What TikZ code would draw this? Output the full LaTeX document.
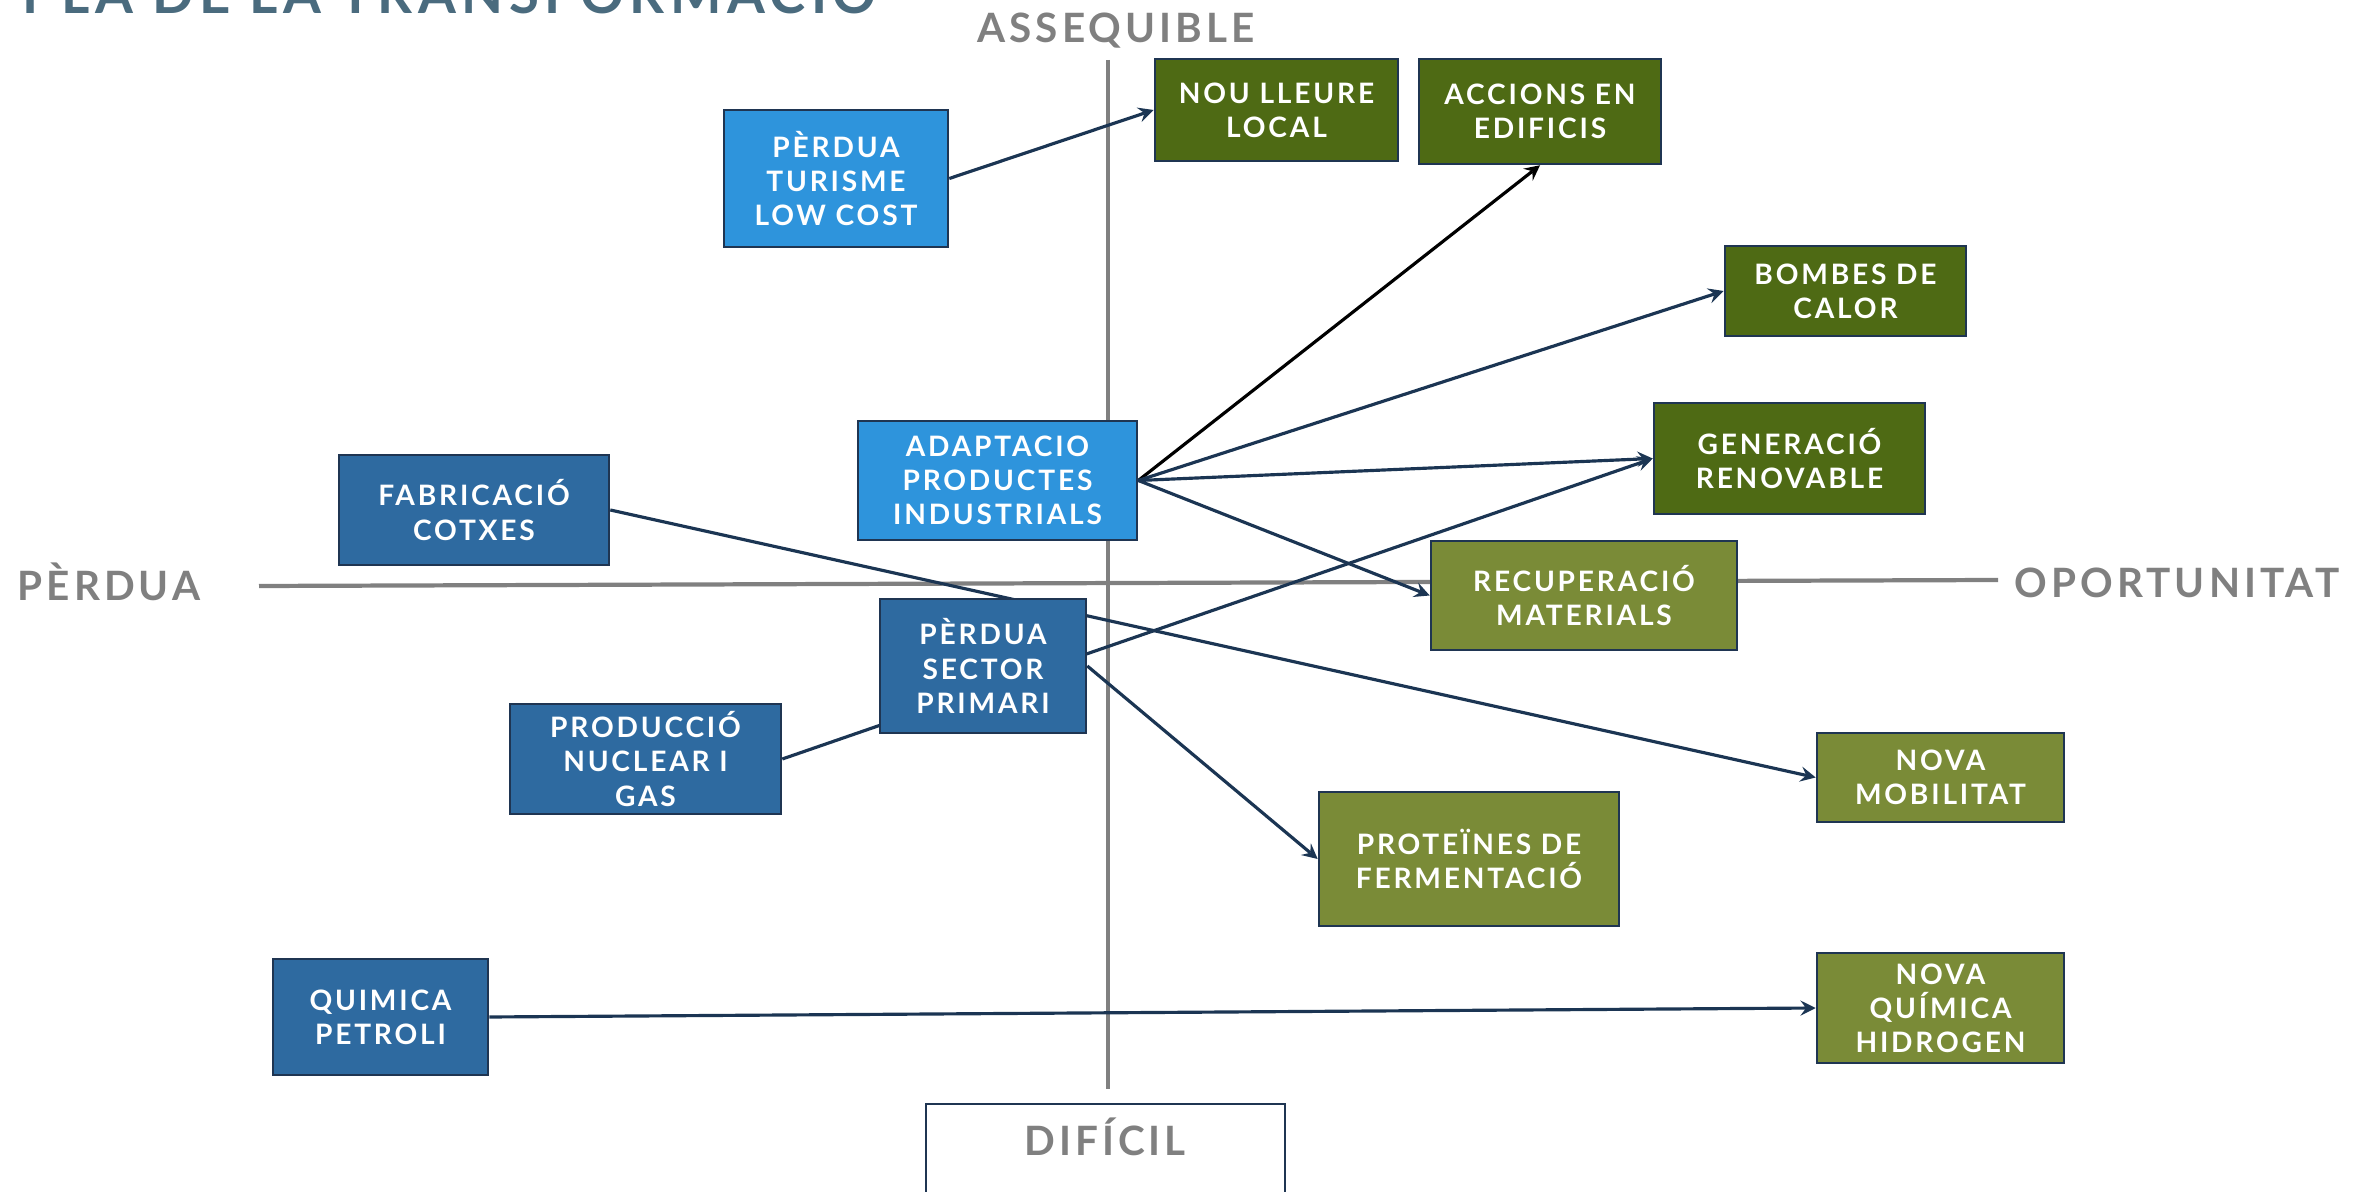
\documentclass[tikz,border=0pt]{standalone}
\usepackage{fontspec,tikz}
\setmainfont{Lato}
\newfontfamily\boxfont{Lato}[LetterSpace=10]
\usetikzlibrary{arrows,backgrounds}
\definecolor{lightloss}{RGB}{46,148,220}
\definecolor{darkloss}{RGB}{46,106,160}
\definecolor{darkgain}{RGB}{78,106,20}
\definecolor{lightgain}{RGB}{122,139,55}
\definecolor{boxedge}{RGB}{31,53,82}
\definecolor{linkblue}{RGB}{27,53,83}
\definecolor{axisgray}{RGB}{128,128,128}
\definecolor{titleblue}{RGB}{74,107,126}
\tikzstyle{box}=[rectangle,draw=boxedge,line width=0.7pt,text=white,align=center,inner sep=0,font=\boxfont\bfseries\fontsize{8}{9.7}\selectfont]
\tikzstyle{lightloss}=[box,fill=lightloss]
\tikzstyle{darkloss}=[box,fill=darkloss]
\tikzstyle{darkgain}=[box,fill=darkgain]
\tikzstyle{lightgain}=[box,fill=lightgain]
\tikzstyle{axislabel}=[text=axisgray,inner sep=0,font=\boxfont\bfseries\fontsize{11.5}{14}\selectfont]
\tikzstyle{axisline}=[axisgray,line width=0.9pt]
\tikzstyle{link}=[linkblue,line width=0.9pt,->,>=stealth]

\begin{document}
\begin{tikzpicture}[x=0.01cm,y=-0.01cm]
\useasboundingbox (0,0) rectangle (2364,1192);
\clip (0,0) rectangle (2364,1192);

\node[anchor=base west,inner sep=0,text=titleblue,font=\boxfont\bfseries\fontsize{15.5}{18}\selectfont] (titol) at (22,14) {PLA DE LA TRANSFORMACIÓ};

\node[axislabel] (assequible) at (1116,31) {ASSEQUIBLE};
\node[axislabel] (perdua) at (109,582) {PÈRDUA};
\node[axislabel] (oportunitat) at (2177,583) {OPORTUNITAT};
\draw[boxedge,line width=0.7pt,fill=white] (926,1104) rectangle (1285,1240);
\node[axislabel] (dificil) at (1105,1137) {DIFÍCIL};

\coordinate (left) at (259,586);
\coordinate (right) at (1998,580);
\coordinate (top) at (1108,60);
\coordinate (bottom) at (1108,1089);

\node[lightloss,minimum width=2.24cm,minimum height=1.37cm] (turisme) at (836,178.5) {PÈRDUA\\TURISME\\LOW COST};
\node[darkgain,minimum width=2.43cm,minimum height=1.02cm] (lleure) at (1276.5,110) {NOU LLEURE\\LOCAL};
\node[darkgain,minimum width=2.42cm,minimum height=1.05cm] (edificis) at (1540,111.5) {ACCIONS EN\\EDIFICIS};
\node[darkgain,minimum width=2.41cm,minimum height=0.90cm] (bombes) at (1845.5,291) {BOMBES DE\\CALOR};
\node[darkgain,minimum width=2.71cm,minimum height=1.11cm] (renovable) at (1789.5,458.5) {GENERACIÓ\\RENOVABLE};
\node[lightloss,minimum width=2.79cm,minimum height=1.19cm] (industrials) at (997.5,480.5) {ADAPTACIO\\PRODUCTES\\INDUSTRIALS};
\node[darkloss,minimum width=2.70cm,minimum height=1.10cm] (cotxes) at (474,510) {FABRICACIÓ\\COTXES};
\node[lightgain,minimum width=3.06cm,minimum height=1.09cm] (materials) at (1584,595.5) {RECUPERACIÓ\\MATERIALS};
\node[darkloss,minimum width=2.06cm,minimum height=1.34cm] (primari) at (983,666) {PÈRDUA\\SECTOR\\PRIMARI};
\node[darkloss,minimum width=2.71cm,minimum height=1.10cm] (nuclear) at (645.5,759) {PRODUCCIÓ\\NUCLEAR I\\GAS};
\node[lightgain,minimum width=2.47cm,minimum height=0.89cm] (mobilitat) at (1940.5,777.5) {NOVA\\MOBILITAT};
\node[lightgain,minimum width=3.00cm,minimum height=1.34cm] (proteines) at (1469,859) {PROTEÏNES DE\\FERMENTACIÓ};
\node[darkloss,minimum width=2.15cm,minimum height=1.16cm] (petroli) at (380.5,1017) {QUIMICA\\PETROLI};
\node[lightgain,minimum width=2.47cm,minimum height=1.10cm] (hidrogen) at (1940.5,1008) {NOVA\\QUÍMICA\\HIDROGEN};

\begin{pgfonlayer}{background}
\draw[axisline,line width=1.2pt] (left) -- (right);
\draw[axisline] (top) -- (bottom);
\draw[link] (turisme.east) -- (lleure.west);
\draw[link,black] (industrials.east) -- (edificis.south);
\draw[link] (industrials.east) -- (bombes.west);
\draw[link] (industrials.east) -- (renovable.west);
\draw[link] (industrials.east) -- (materials.west);
\draw[link] (cotxes.east) -- (mobilitat.west);
\draw[link] (nuclear.east) -- (renovable.west);
\draw[link] (primari.east) -- (proteines.west);
\draw[link] (petroli.east) -- (hidrogen.west);
\end{pgfonlayer}
\end{tikzpicture}
\end{document}
